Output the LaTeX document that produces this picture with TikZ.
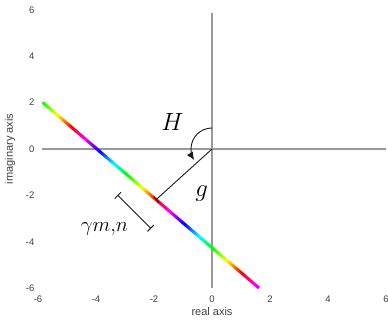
\documentclass[tikz,border=0pt]{standalone}
\usepackage{fontspec}
\newfontfamily\ticksfont{Liberation Sans}
\usetikzlibrary{arrows.meta,calc}
\begin{document}
\begin{tikzpicture}[x=1pt,y=-1pt,
  axisline/.style={draw=black!40, line width=1.2pt},
  ticklab/.style={font=\ticksfont\fontsize{9.5}{10}\selectfont, text=black!75, inner sep=0pt},
  axlab/.style={font=\ticksfont\fontsize{11}{12}\selectfont, text=black!75, inner sep=0pt},
  biglab/.style={font=\fontsize{25}{27}\selectfont, inner sep=0pt},
  midlab/.style={font=\fontsize{22}{24}\selectfont, inner sep=0pt},
  blackline/.style={draw=black!90, line width=0.9pt}]
\useasboundingbox (0,0) rectangle (388,320);
\coordinate (O) at (212,149);
\coordinate (xl) at (42,149);
\coordinate (xr) at (386,149);
\coordinate (yt) at (212,13);
\coordinate (yb) at (212,288);
\draw[axisline] (xl) -- (xr);
\draw[axisline] (yt) -- (yb);
% y tick labels
\foreach \v/\lab in {6/6,4/4,2/2,0/0,-2/-2,-4/-4,-6/-6}{
  \node[ticklab, anchor=east] (yt\v) at (34.5,{149-23.2*\v}) {\lab};
}
% x tick labels
\foreach \v/\lab in {-6/-6,-4/-4,-2/-2,0/0,2/2,4/4,6/6}{
  \node[ticklab] (xt\v) at ({212+29*\v},299) {\lab};
}
\node[axlab] (xlab) at (212,312) {real axis};
\node[axlab, rotate=90] (ylab) at (10,149) {imaginary axis};
% rainbow line
\coordinate (P1) at (42.7,102.5);
\coordinate (P2) at (259,288);
\foreach \i in {0,...,179}{
  \pgfmathsetmacro{\ta}{\i/180}
  \pgfmathsetmacro{\tb}{min(1,(\i+1.4)/180)}
  \pgfmathsetmacro{\h}{mod(120-918*\ta+1440,360)}
  \definecolor{segc}{Hsb}{\h,1,1}
  \draw[segc, line width=3pt] ($(P1)!\ta!(P2)$) -- ($(P1)!\tb!(P2)$);
}
% g line
\coordinate (F) at (156,199.7);
\draw[blackline, -{Bar[width=8pt]}] (O) -- (F);
% H arc
\draw[blackline, -{Latex[length=8pt,width=7pt]}] (212,128) arc[start angle=-90, end angle=-212, radius=21];
% bracket
\coordinate (B1) at (117.5,195);
\coordinate (B2) at (151,228.5);
\draw[blackline, {Bar[width=9pt]}-{Bar[width=9pt]}] (B1) -- (B2);
% labels
\node[biglab, anchor=base] (H) at (172.5,131) {$H$};
\node[biglab, anchor=base] (g) at (201.7,196.5) {$g$};
\node[midlab, anchor=base] (gam) at (104.5,231.7) {$\gamma m{,}n$};
\end{tikzpicture}
\end{document}
